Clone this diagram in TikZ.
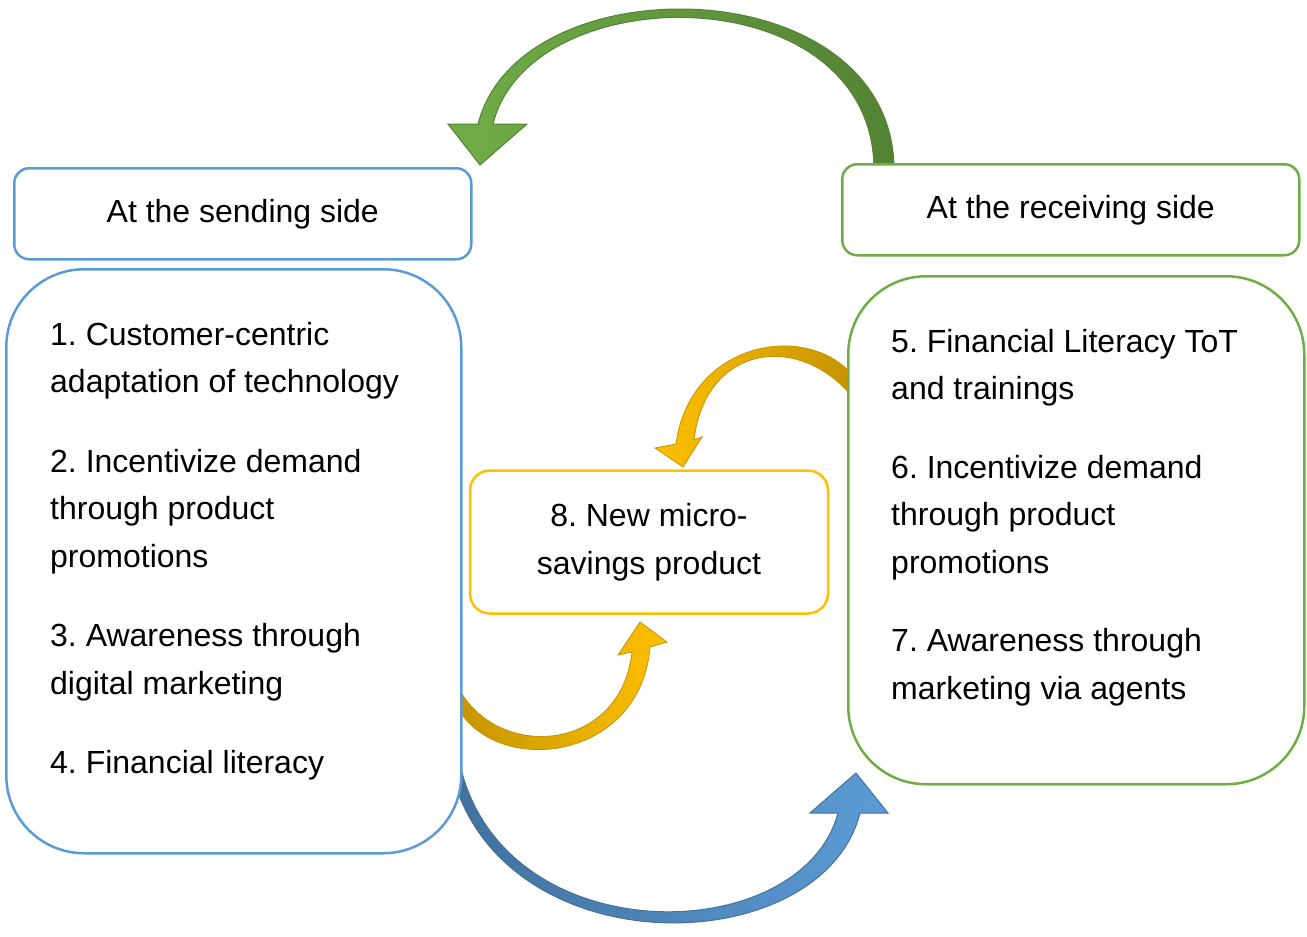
\documentclass[tikz,border=0pt]{standalone}
\usepackage{fontspec}
\setmainfont{Liberation Sans}
\frenchspacing
\definecolor{sendblue}{RGB}{91,155,213}
\definecolor{darkblue}{RGB}{65,113,156}
\definecolor{recvgreen}{RGB}{112,173,71}
\definecolor{darkgreen}{RGB}{84,130,53}
\definecolor{prodgold}{RGB}{255,192,0}
\definecolor{darkgold}{RGB}{196,148,0}
\def\itemfont{\fontsize{32}{47.5}\selectfont}

\begin{document}
\begin{tikzpicture}[x=1pt,y=-1pt,
  headbox/.style={draw,rounded corners=15pt,line width=2.5pt,fill=white,minimum width=457pt,minimum height=91pt,anchor=north west,font=\itemfont},
  bodybox/.style={draw,rounded corners=78pt,line width=2.5pt,fill=white,anchor=north west},
  itemtext/.style={anchor=north west,inner sep=0pt,align=left,font=\itemfont}]
\useasboundingbox (0,0) rectangle (1307,937);
%
% curved block arrows, drawn first so the boxes cover their ends
\shade[left color=recvgreen,right color=darkgreen,draw=darkgreen,line width=1pt]
  (894,170) .. controls (894,-32) and (520,-40) .. (478,124)
  -- (448,124) -- (480,165) -- (527,124) -- (493,124)
  .. controls (530,-25) and (874,-25) .. (874,170) -- cycle;
\shade[left color=darkblue,right color=sendblue,draw=darkblue,line width=1pt]
  (446,740) .. controls (468,970) and (820,970) .. (860,813)
  -- (888,813) -- (856,773) -- (810,813) -- (838,813)
  .. controls (800,955) and (478,955) .. (456,740) -- cycle;
\shade[left color=darkgold,right color=prodgold,draw=darkgold,line width=.8pt]
  (450,690) .. controls (475,780) and (640,770) .. (650,647)
  -- (667,642) -- (640,622) -- (618,655) -- (632,652)
  .. controls (620,760) and (480,762) .. (452,672) -- cycle;
\shade[left color=prodgold,right color=darkgold,draw=darkgold,line width=.8pt]
  (855,378) .. controls (810,320) and (690,340) .. (676,444)
  -- (655,448) -- (683,467) -- (702,437) -- (694,440)
  .. controls (705,345) and (800,330) .. (855,400) -- cycle;
%
\node[headbox,draw=sendblue] (send head) at (13,167) {At the sending side};
\node[bodybox,draw=sendblue,minimum width=455pt,minimum height=584pt] (send body) at (5,268) {};
\node[headbox,draw=recvgreen] (recv head) at (841,163) {At the receiving side};
\node[bodybox,draw=recvgreen,minimum width=456pt,minimum height=508pt] (recv body) at (847,275) {};
\node[draw=prodgold,line width=2.5pt,rounded corners=20pt,fill=white,minimum width=358pt,minimum height=143pt,align=center,font=\itemfont] (product) at (649,542) {8. New micro-\\savings product};
%
\node[itemtext] (send list) at (50,312) {\strut 1. Customer-centric\\ adaptation of technology\\[32pt] 2. Incentivize demand\\ through product\\ promotions\\[32pt] 3. Awareness through\\ digital marketing\\[32pt] 4. Financial literacy};
\node[itemtext] (recv list) at (891,319) {\strut 5. Financial Literacy ToT\\ and trainings\\[31pt] 6. Incentivize demand\\ through product\\ promotions\\[31pt] 7. Awareness through\\ marketing via agents};
\end{tikzpicture}
\end{document}
